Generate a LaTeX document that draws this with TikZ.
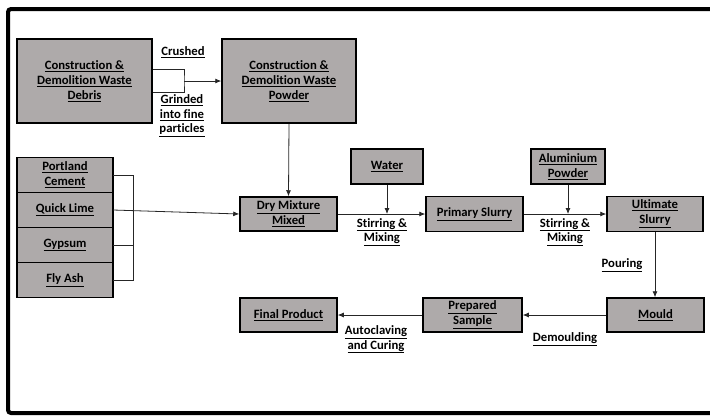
\documentclass[tikz,border=0pt]{standalone}
\usepackage{fontspec}
\setmainfont[Ligatures=NoCommon]{Carlito}
\usepackage{xcolor}
\usetikzlibrary{arrows.meta}
\definecolor{boxgrey}{HTML}{AEAAAA}
\newcommand{\ulin}[1]{\underline{#1}}

\begin{document}
\begin{tikzpicture}[x=1pt,y=-1pt,
    box/.style={draw=black, line width=1.5pt, fill=boxgrey, align=center,
      font=\fontsize{12.7}{15}\selectfont\bfseries, inner sep=2pt},
    stack/.style={box, minimum width=96pt, minimum height=35pt, outer sep=0pt},
    lbl/.style={align=center, font=\fontsize{12.7}{14.5}\selectfont\bfseries, inner sep=1pt},
    link/.style={line width=0.8pt, draw=black!85},
    arr/.style={link, -{Latex[length=6pt,width=5pt]}}]
    \useasboundingbox (0,0) rectangle (710,416);
    \draw [line width=4pt, rounded corners=3pt] (714,9) -- (8,9) -- (8,413) -- (714,413);

    % waste stream
    \node [box, minimum width=135pt, minimum height=84pt] (debris) at (84.5,81)
        {\ulin{Construction \&}\\\ulin{Demolition Waste}\\\ulin{Debris}};
    \node [box, minimum width=134pt, minimum height=84pt] (powder) at (289,81)
        {\ulin{Construction \&}\\\ulin{Demolition Waste}\\\ulin{Powder}};
    \node [lbl] (crushed) at (183,52) {\ulin{Crushed}};
    \node [lbl] (grinded) at (182,116) {\ulin{Grinded}\\\ulin{into fine}\\\ulin{particles}};
    \coordinate (djoin) at (184,81);
    \draw [link] ([yshift=12pt]debris.east) -| (djoin) |- ([yshift=-11pt]debris.east);
    \draw [arr] (djoin) -- (powder.west |- djoin);

    % binders
    \node [stack] (portland) at (65,175) {\ulin{Portland}\\\ulin{Cement}};
    \node [stack] (quicklime) at (65,210) {\ulin{Quick Lime}};
    \node [stack] (gypsum) at (65,245) {\ulin{Gypsum}};
    \node [stack] (flyash) at (65,280) {\ulin{Fly Ash}};
    \coordinate (mjoin) at (133,0);
    \draw [link] (portland.east) -| (mjoin |- flyash.east) -- (flyash.east);
    \draw [link] (gypsum.east) -- (gypsum.east -| mjoin);

    % mixing line
    \node [box, minimum width=97pt, minimum height=34pt] (dry) at (288.5,214)
        {\ulin{Dry Mixture}\\\ulin{Mixed}};
    \node [box, minimum width=72pt, minimum height=35pt] (water) at (387,166.5) {\ulin{Water}};
    \node [box, minimum width=97pt, minimum height=35pt] (primary) at (474.5,214)
        {\ulin{Primary Slurry}};
    \node [box, minimum width=74pt, minimum height=35pt] (alu) at (568,166.5)
        {\ulin{Aluminium}\\\ulin{Powder}};
    \node [box, minimum width=96pt, minimum height=35pt] (ultimate) at (655,214)
        {\ulin{Ultimate}\\\ulin{Slurry}};
    \draw [arr] (quicklime.east) -- (dry.west);
    \draw [arr] (powder.south) -- (dry.north);
    \draw [arr] (dry.east) -- (primary.west);
    \draw [arr] (water.south) -- (water.south |- dry.east);
    \draw [arr] (primary.east) -- (ultimate.west);
    \draw [arr] (alu.south) -- (alu.south |- primary.east);
    \node [lbl] (stir1) at (382,232) {\ulin{Stirring \&}\\\ulin{Mixing}};
    \node [lbl] (stir2) at (565,232) {\ulin{Stirring \&}\\\ulin{Mixing}};

    % moulding and curing
    \node [box, minimum width=97pt, minimum height=34pt] (mould) at (655.5,315) {\ulin{Mould}};
    \node [box, minimum width=99pt, minimum height=34pt] (prepared) at (472.5,315)
        {\ulin{Prepared}\\\ulin{Sample}};
    \node [box, minimum width=97pt, minimum height=34pt] (final) at (288.5,315)
        {\ulin{Final Product}};
    \draw [arr] (ultimate.south) -- (ultimate.south |- mould.north);
    \draw [arr] (mould.west) -- (prepared.east);
    \draw [arr] (prepared.west) -- (final.east);
    \node [lbl] (pouring) at (622,265) {\ulin{Pouring}};
    \node [lbl] (demould) at (565,339) {\ulin{Demoulding}};
    \node [lbl] (autoclave) at (376,339.5) {\ulin{Autoclaving}\\\ulin{and Curing}};
\end{tikzpicture}
\end{document}
